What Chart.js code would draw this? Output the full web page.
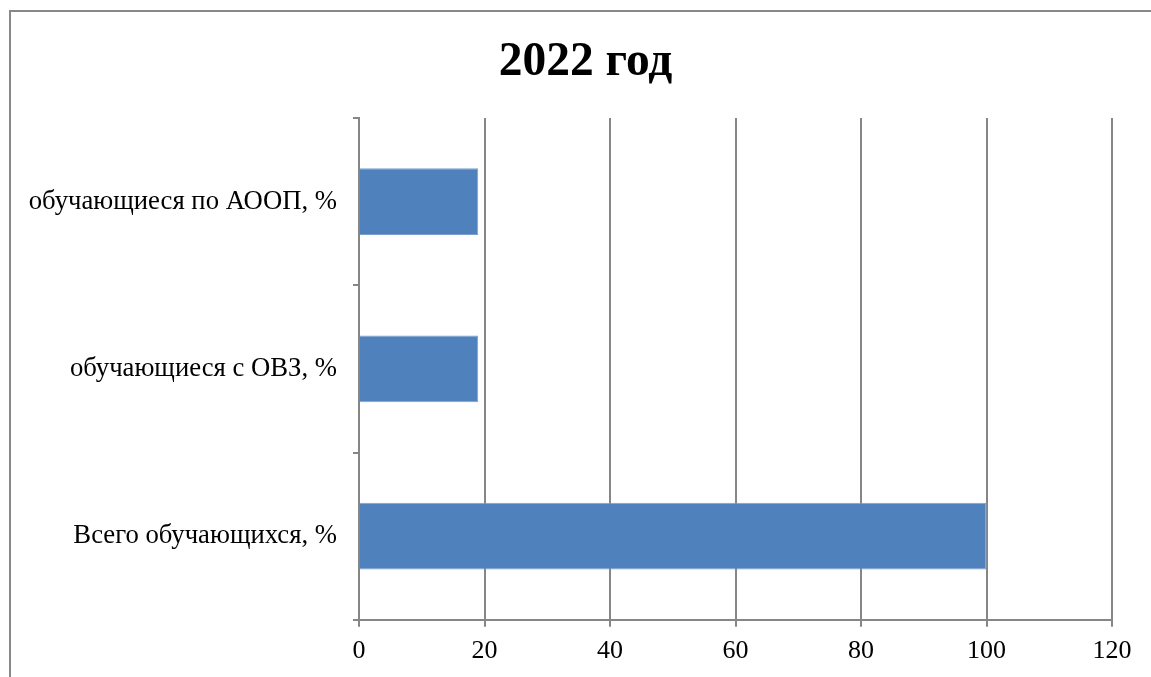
<!DOCTYPE html>
<html>
<head>
<meta charset="utf-8">
<script src="https://cdn.jsdelivr.net/npm/chart.js@4"></script>
<style>
    body { margin: 0; background: #fff; }
    #frame {
        position: absolute; left: 9px; top: 10px; width: 1160px; height: 700px;
        border-left: 2px solid #888; border-top: 2px solid #888;
    }
    #wrap { position: absolute; left: 0; top: 0; width: 1151px; height: 677px; }
</style>
</head>
<body>
<div id="frame"></div>
<div id="wrap"><canvas id="barChart"></canvas></div>
<script>
// Chart data
const chartTitle = '2022 год';
const categories = ['обучающиеся по АООП, %', 'обучающиеся с ОВЗ, %', 'Всего обучающихся, %'];
const values = [19, 19, 100];
const xMin = 0;
const xMax = 120;
const xStep = 20;

const serif = "'Liberation Serif', 'Times New Roman', serif";
const gridColor = '#868686';

// The title in the original sits a bit right of the canvas centre, so draw it here
const titlePlugin = {
    id: 'offsetTitle',
    afterDraw(chart) {
        const c = chart.ctx;
        c.save();
        c.font = 'bold 47.5px ' + serif;
        c.fillStyle = '#000';
        c.textAlign = 'center';
        c.textBaseline = 'middle';
        c.fillText(chartTitle, 585.5, 63);
        c.restore();
    }
};

window.onload = function() {
    const ctx = document.getElementById('barChart').getContext('2d');
    new Chart(ctx, {
        type: 'bar',
        data: {
            labels: categories,
            datasets: [{
                data: values,
                backgroundColor: '#4F81BD',
                borderColor: '#7BA0CD',
                borderWidth: 1,
                barPercentage: 0.8,
                categoryPercentage: 0.5
            }]
        },
        options: {
            indexAxis: 'y',
            responsive: true,
            maintainAspectRatio: false,
            animation: false,
            layout: { padding: { left: 0, right: 39, top: 118, bottom: 1 } },
            plugins: {
                legend: { display: false },
                tooltip: { enabled: false },
                title: { display: false }
            },
            scales: {
                x: {
                    min: xMin,
                    max: xMax,
                    ticks: {
                        stepSize: xStep,
                        color: '#000',
                        font: { family: serif, size: 26 },
                        padding: 9
                    },
                    grid: { color: gridColor, lineWidth: 2, tickLength: 7 },
                    border: { color: gridColor, width: 2 }
                },
                y: {
                    ticks: {
                        color: '#000',
                        font: { family: serif, size: 26.7 },
                        padding: 16
                    },
                    grid: { color: gridColor, lineWidth: 2, tickLength: 6, offset: true, drawOnChartArea: false },
                    border: { color: gridColor, width: 2 },
                    afterFit: scale => { scale.width = 359; }
                }
            }
        },
        plugins: [titlePlugin]
    });
};
</script>
</body>
</html>
